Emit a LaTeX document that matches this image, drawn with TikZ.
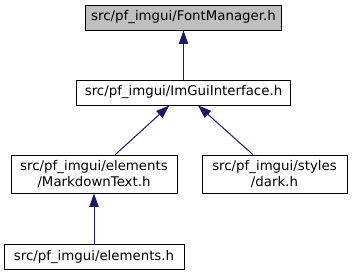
\documentclass[tikz,border=0pt]{standalone}
\usepackage{fontspec}
\setmainfont{DejaVu Sans}
\usetikzlibrary{arrows.meta}
\definecolor{incblue}{RGB}{25, 25, 112}
\definecolor{incgray}{RGB}{191, 191, 191}

\begin{document}
\begin{tikzpicture}[x=0.75pt, y=-0.75pt,
  file/.style={draw=black, line width=0.75pt, fill=white, inner sep=0pt,
    font=\fontsize{10}{12}\selectfont, align=center, minimum height=18.75pt},
  dep/.style={incblue, line width=0.75pt, -{Triangle[length=10pt, width=7pt]}}]
\useasboundingbox (0,0) rectangle (353,276);

\node[file, fill=incgray, minimum width=147pt] (fm) at (183.5,17.5) {src/pf\_imgui/FontManager.h};
\node[file, minimum width=160.5pt] (imgui) at (183.5,92.5) {src/pf\_imgui/ImGuiInterface.h};
\node[file, minimum width=124.5pt, minimum height=28.5pt] (md) at (94,174) {src/pf\_imgui/elements\\/MarkdownText.h};
\node[file, minimum width=108.75pt, minimum height=28.5pt] (dark) at (274.5,174) {src/pf\_imgui/styles\\/dark.h};
\node[file, minimum width=135pt] (elem) at (94,256.5) {src/pf\_imgui/elements.h};

\draw[dep] (imgui) -- (fm);
\draw[dep] (md) -- (imgui);
\draw[dep] (dark) -- (imgui);
\draw[dep] (elem) -- (md);
\end{tikzpicture}
\end{document}
